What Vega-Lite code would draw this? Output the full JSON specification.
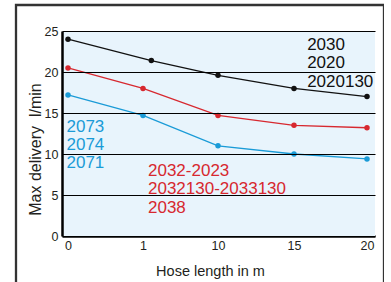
{
  "$schema": "https://vega.github.io/schema/vega-lite/v6.json",
  "width": 368,
  "height": 280,
  "autosize": {"type": "none"},
  "padding": {"left": 16, "top": 5, "right": 0, "bottom": 0},
  "background": "white",
  "config": {
    "view": {"stroke": "#333333", "strokeWidth": 2.3, "fill": "white"},
    "font": "Liberation Sans, sans-serif"
  },
  "datasets": {
    "points": [
      {"series": "black", "length": 0, "delivery": 24},
      {"series": "black", "length": 2, "delivery": 21.4},
      {"series": "black", "length": 10, "delivery": 19.6},
      {"series": "black", "length": 15, "delivery": 18},
      {"series": "black", "length": 20, "delivery": 17},
      {"series": "red", "length": 0, "delivery": 20.5},
      {"series": "red", "length": 1, "delivery": 18},
      {"series": "red", "length": 10, "delivery": 14.7},
      {"series": "red", "length": 15, "delivery": 13.5},
      {"series": "red", "length": 20, "delivery": 13.2},
      {"series": "blue", "length": 0, "delivery": 17.2},
      {"series": "blue", "length": 1, "delivery": 14.7},
      {"series": "blue", "length": 10, "delivery": 11},
      {"series": "blue", "length": 15, "delivery": 10},
      {"series": "blue", "length": 20, "delivery": 9.4}
    ],
    "labels": [
      {"series": "black", "text": "2030", "length": 15.9, "delivery": 22.68},
      {"series": "black", "text": "2020", "length": 15.9, "delivery": 20.49},
      {"series": "black", "text": "2020130", "length": 15.9, "delivery": 18.17},
      {"series": "blue", "text": "2073", "length": -0.02, "delivery": 12.68},
      {"series": "blue", "text": "2074", "length": -0.02, "delivery": 10.49},
      {"series": "blue", "text": "2071", "length": -0.02, "delivery": 8.29},
      {"series": "red", "text": "2032-2023", "length": 1.6, "delivery": 7.32},
      {"series": "red", "text": "2032130-2033130", "length": 1.6, "delivery": 5.12},
      {"series": "red", "text": "2038", "length": 1.6, "delivery": 2.8}
    ]
  },
  "layer": [
    {
      "data": {"values": [{}]},
      "mark": {"type": "rect", "color": "#e8f4fc"},
      "encoding": {
        "x": {"datum": -0.08, "type": "quantitative"},
        "x2": {"datum": 20.55},
        "y": {"datum": 0, "type": "quantitative"},
        "y2": {"datum": 25}
      }
    },
    {
      "data": {"name": "points"},
      "mark": {"type": "line", "strokeWidth": 1.3},
      "encoding": {
        "x": {
          "field": "length", "type": "quantitative",
          "scale": {"domain": [-0.08, 0, 1, 10, 15, 20, 20.55], "range": [46, 52, 127, 202, 278, 351, 359], "nice": false, "zero": false},
          "axis": {
            "values": [0, 1, 10, 15, 20], "ticks": false, "grid": false, "offset": -49,
            "domainColor": "#000000", "domainWidth": 2.5,
            "labelPadding": 3, "labelFontSize": 12.5, "labelColor": "#231f20",
            "title": "Hose length in m", "titleFontSize": 14.5, "titleFontWeight": "normal", "titleColor": "#231f20",
            "titleX": 194, "titleY": 39, "titleBaseline": "alphabetic", "titleAlign": "center"
          }
        },
        "y": {
          "field": "delivery", "type": "quantitative",
          "scale": {"domain": [0, 25], "range": [231, 26], "nice": false, "zero": false},
          "axis": {
            "values": [0, 5, 10, 15, 20, 25], "ticks": false, "grid": true, "gridColor": "#000000", "gridWidth": 1, "gridOpacity": 1,
            "offset": -46, "zindex": 1,
            "domainColor": "#000000", "domainWidth": 2.5,
            "labelPadding": 4, "labelFontSize": 12.5, "labelColor": "#231f20",
            "title": "Max delivery\u00a0 l/min", "titleFontSize": 16, "titleFontWeight": "normal", "titleColor": "#231f20",
            "titleAngle": 270, "titleX": -22, "titleY": 144, "titleBaseline": "alphabetic", "titleAlign": "center"
          }
        },
        "color": {"field": "series", "type": "nominal", "scale": {"domain": ["black", "red", "blue"], "range": ["#111111", "#d7282f", "#1a9bd7"]}, "legend": null},
        "detail": {"field": "series"}
      }
    },
    {
      "data": {"name": "points"},
      "mark": {"type": "circle", "size": 30, "opacity": 1},
      "encoding": {
        "x": {"field": "length", "type": "quantitative"},
        "y": {"field": "delivery", "type": "quantitative"},
        "color": {"field": "series", "type": "nominal", "legend": null}
      }
    },
    {
      "data": {"name": "labels"},
      "mark": {"type": "text", "align": "left", "baseline": "alphabetic", "fontSize": 17},
      "encoding": {
        "x": {"field": "length", "type": "quantitative"},
        "y": {"field": "delivery", "type": "quantitative"},
        "text": {"field": "text"},
        "color": {"field": "series", "type": "nominal", "legend": null}
      }
    }
  ]
}
